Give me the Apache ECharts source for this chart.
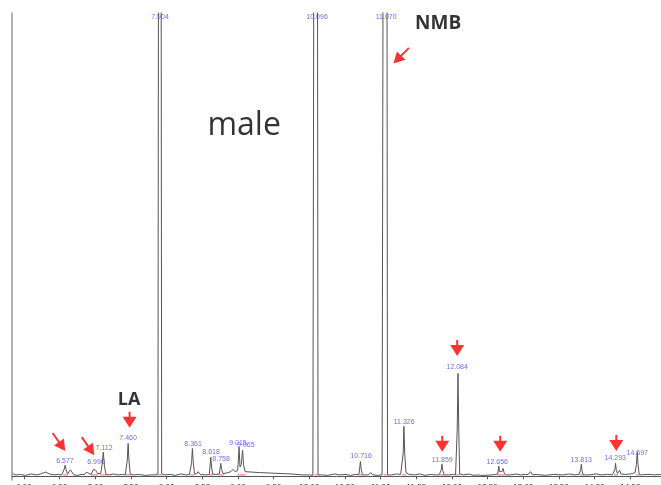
<!DOCTYPE html>
<html>
<head>
<meta charset="utf-8">
<script src="https://cdn.jsdelivr.net/npm/echarts@6/dist/echarts.min.js"></script>
<style>html,body{margin:0;padding:0;background:#fff}#c{width:661px;height:485px}</style>
</head>
<body>
<div id="c"></div>
<script>
// Chromatogram trace: [retention time (min), relative abundance (%)]
const trace = [
[5.84,0.6],[5.88,0.3],[5.95,0.4],[6.02,0.2],[6.10,0.5],[6.18,0.3],[6.25,0.6],[6.30,0.9],[6.36,0.5],[6.42,0.3],[6.48,0.4],[6.53,0.3],
[6.55,0.4],[6.565,1.6],[6.577,2.4],[6.59,1.4],[6.61,0.5],
[6.635,0.6],[6.65,1.4],[6.662,1.7],[6.675,1.2],[6.70,0.3],
[6.75,0.2],[6.80,0.4],
[6.85,0.4],[6.875,0.9],[6.90,0.5],
[6.94,0.4],[6.975,1.5],[6.990,1.9],[7.005,1.3],[7.03,0.6],
[7.075,0.6],[7.095,2.5],[7.112,5.2],[7.128,2.2],[7.15,0.4],
[7.20,0.3],[7.26,0.5],[7.32,0.3],[7.38,0.4],[7.42,0.3],
[7.435,0.4],[7.448,3.5],[7.460,7.1],[7.472,3.3],[7.49,0.4],
[7.55,0.3],[7.62,0.4],[7.70,0.2],[7.78,0.3],[7.84,0.3],
[7.878,0.5],[7.904,400],[7.930,0.5],
[7.98,0.3],[8.05,0.4],[8.12,0.2],[8.20,0.5],[8.27,0.3],[8.32,0.4],
[8.338,0.5],[8.35,3],[8.361,6.0],[8.373,3],[8.39,0.6],
[8.42,0.5],[8.44,1.0],[8.47,0.4],
[8.55,0.3],
[8.598,0.4],[8.607,2],[8.618,4.1],[8.630,2],[8.645,0.5],
[8.69,0.4],
[8.738,0.5],[8.748,1.6],[8.758,2.8],[8.770,1.5],[8.79,0.6],
[8.84,0.7],
[8.90,1.0],[8.93,1.5],[8.96,1.0],
[8.995,1.2],[9.005,3.5],[9.015,6.3],[9.028,2.0],
[9.045,2.5],[9.065,5.6],[9.078,2.5],[9.10,1.0],
[9.2,0.9],[9.3,0.8],[9.45,0.7],[9.6,0.6],[9.75,0.5],[9.9,0.3],[10.0,0.3],[10.05,0.2],
[10.07,0.3],[10.096,400],[10.122,0.3],
[10.18,0.3],[10.26,0.2],[10.35,0.5],[10.42,0.3],[10.50,0.4],[10.58,0.2],[10.64,0.4],
[10.695,0.4],[10.705,1.6],[10.716,3.2],[10.728,1.5],[10.745,0.3],
[10.80,0.3],
[10.83,0.3],[10.86,0.8],[10.89,0.3],
[10.95,0.2],[11.02,0.3],
[11.044,0.3],[11.070,400],[11.096,0.3],
[11.15,0.3],[11.22,0.5],[11.28,0.4],
[11.305,0.5],[11.316,5],[11.326,10.8],[11.337,5],[11.355,0.8],
[11.40,0.4],[11.47,0.3],[11.55,0.5],[11.62,0.2],[11.70,0.4],[11.78,0.3],[11.82,0.3],
[11.84,0.4],[11.85,1.4],[11.859,2.6],[11.870,1.3],[11.89,0.3],
[11.95,0.3],[12.02,0.4],[12.05,0.3],
[12.062,0.4],[12.073,10],[12.084,22.2],[12.095,10],[12.108,0.5],
[12.16,0.3],[12.24,0.5],[12.30,0.2],[12.37,0.3],[12.40,0.2],
[12.42,0.6],[12.45,0.2],[12.56,0.3],[12.61,0.4],
[12.64,0.5],[12.648,1.2],[12.656,2.2],[12.666,1.0],[12.68,0.6],
[12.70,1.0],[12.716,1.7],[12.73,0.8],[12.75,0.3],
[12.82,0.3],[12.90,0.5],[12.96,0.3],[13.03,0.4],
[13.07,0.4],[13.10,1.0],[13.13,0.3],
[13.18,0.4],[13.30,0.2],[13.42,0.4],[13.55,0.3],[13.65,0.5],[13.72,0.3],[13.78,0.4],
[13.795,0.4],[13.804,1.4],[13.813,2.6],[13.823,1.2],[13.84,0.3],
[13.92,0.3],[14.02,0.5],[14.10,0.3],[14.18,0.4],[14.25,0.3],
[14.275,0.4],[14.284,1.5],[14.293,2.8],[14.303,1.3],[14.32,0.6],
[14.335,0.9],[14.35,1.3],[14.37,0.5],
[14.42,0.4],[14.50,0.5],
[14.53,0.6],[14.545,1.0],[14.565,0.8],[14.585,2.5],[14.597,5.2],[14.608,2.5],[14.625,0.4],
[14.66,0.3],[14.72,0.4],
[14.80,0.4],[14.82,0.8],[14.84,0.3],[14.90,0.4],[14.95,0.3]
];

// integration baselines (red), [start, end] in minutes
const baselineSegments = [
[6.55,6.62],[6.94,7.04],[7.07,7.16],[7.43,7.50],[7.87,7.94],[8.33,8.40],[8.59,8.65],[8.73,8.80],[8.99,9.11],
[10.07,10.13],[10.69,10.75],[11.04,11.10],[11.30,11.36],[11.83,11.90],[12.06,12.11],[12.63,12.74],[13.79,13.85],[14.27,14.33],[14.58,14.63]
];
const baselineLevel = 0.3;

// peak labels
const peakLabelText  = ['6.577','6.990','7.112','7.460','7.904','8.361','8.618','8.758','9.015','9.065','10.096','10.716','11.070','11.326','11.859','12.084','12.656','13.813','14.293','14.597'];
const peakLabelTime  = [6.575,7.01,7.122,7.459,7.907,8.370,8.623,8.763,9.0,9.11,10.109,10.727,11.077,11.33,11.863,12.073,12.634,13.812,14.289,14.597];
const peakLabelLevel = [3.3,3.1,6.1,8.3,99.2,7.0,5.2,3.7,7.2,6.8,99.2,4.4,99.2,11.7,3.5,23.6,3.1,3.5,4.0,5.0];

// red arrows: [time, level] and [time, level, rotation]
const downArrows = [[7.48,12.2],[11.863,7.0],[12.073,27.7],[12.676,7.0],[14.303,7.2]];
const diagArrows = [[6.49,7.4,35],[6.898,6.5,35],[11.288,90.8,-45]];

// text annotations
const annotText  = ['male','NMB','LA'];
const annotTime  = [9.086,11.806,7.473];
const annotLevel = [75.7,97.7,16.5];

const tickValues = [6.0,6.5,7.0,7.5,8.0,8.5,9.0,9.5,10.0,10.5,11.0,11.5,12.0,12.5,13.0,13.5,14.0,14.5];

const baselineData = [];
baselineSegments.forEach(s => { baselineData.push([s[0], baselineLevel], [s[1], baselineLevel], [s[1], null]); });

const chart = echarts.init(document.getElementById('c'), null, {renderer:'canvas'});
const downPath = 'path://M6,0 L8,0 L8,5 L14,5 L7,16 L0,5 L6,5 Z';
const diagPath = 'path://M5,0 L7,0 L7,11 L12,11 L6,22 L0,11 L5,11 Z';
chart.setOption({
  animation:false,
  grid:{left:12,right:0,top:13,bottom:5,containLabel:false,outerBoundsMode:'none'},
  xAxis:{type:'value',min:5.832,max:14.93,
    axisLine:{show:true,lineStyle:{color:'#555',width:1}},
    axisTick:{show:true,length:3,inside:false,customValues:tickValues,lineStyle:{color:'#555'}},
    axisLabel:{show:true,customValues:tickValues,margin:3,fontSize:8,color:'#333',fontFamily:'Liberation Sans',formatter:v=>v.toFixed(2)},
    splitLine:{show:false}},
  yAxis:{type:'value',min:-0.8,max:100,
    axisLine:{show:true,lineStyle:{color:'#999',width:1.5}},
    axisTick:{show:false},axisLabel:{show:false},splitLine:{show:false}},
  series:[
    {type:'line',data:trace,showSymbol:false,clip:true,lineStyle:{color:'#555',width:1},z:2},
    {type:'line',data:baselineData,showSymbol:false,connectNulls:false,lineStyle:{color:'#ff6060',width:1},z:3},
    {type:'scatter',silent:true,symbolSize:0,z:5,
      data:peakLabelText.map((t,i)=>({name:t,value:[peakLabelTime[i],peakLabelLevel[i]]})),
      label:{show:true,position:'inside',formatter:p=>p.name,fontSize:7,color:'#4646f0',fontFamily:'Liberation Sans'}},
    {type:'scatter',silent:true,symbol:downPath,symbolSize:[14,16],itemStyle:{color:'#ff0000'},z:6,data:downArrows},
    {type:'scatter',silent:true,symbol:diagPath,symbolSize:[12,22],itemStyle:{color:'#ff0000'},z:6,
      data:diagArrows.map(a=>({value:[a[0],a[1]],symbolRotate:a[2]}))},
    {type:'scatter',silent:true,symbolSize:0,z:7,
      data:annotText.map((t,i)=>({name:t,value:[annotTime[i],annotLevel[i]],
        label:{fontSize:i===0?32:(i===1?19:18),fontWeight:i===0?'normal':'bold'}})),
      label:{show:true,position:'inside',formatter:p=>p.name,color:'#000',fontFamily:'Open Sans'}}
  ]
});
</script>
</body>
</html>
